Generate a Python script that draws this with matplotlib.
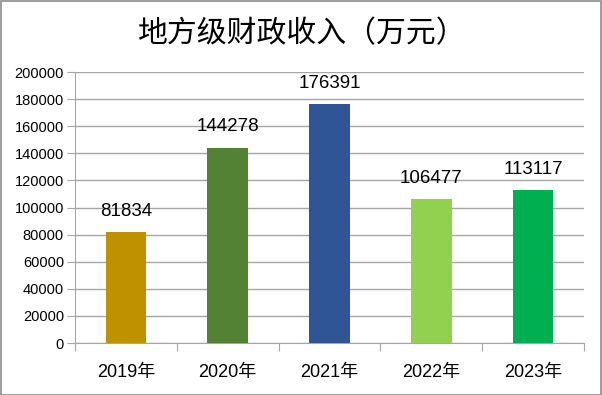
import numpy as np
import matplotlib
matplotlib.use('Agg')
import matplotlib.pyplot as plt
from matplotlib.patches import Rectangle

years = ['2019年', '2020年', '2021年', '2022年', '2023年']
revenue = [81834, 144278, 176391, 106477, 113117]
bar_colors = ['#BF9000', '#548235', '#2F5597', '#92D050', '#00B050']
yticks = np.arange(0, 200001, 20000)

plt.rcParams['font.family'] = ['Liberation Sans', 'Noto Sans CJK SC']

fig = plt.figure(figsize=(6.02, 3.95), dpi=100)
ax = fig.add_axes([0.1246, 0.1316, 0.8454, 0.6861])

x = np.arange(len(years))
ax.bar(x, revenue, width=0.4, color=bar_colors, zorder=3)
for xi, v in zip(x, revenue):
    ax.text(xi, v + 9000, str(v), ha='center', va='bottom', fontsize=13.5, color='black')

ax.set_xlim(-0.5, len(years) - 0.5)
ax.set_ylim(0, 200000)
ax.set_yticks(yticks)
ax.set_yticklabels([str(t) for t in yticks], fontsize=10.5)
ax.yaxis.grid(True, color='#A6A6A6', linewidth=1, zorder=0)

# category ticks between groups
ax.set_xticks(np.arange(-0.5, len(years), 1.0))
ax.set_xticklabels([])
ax.set_xticks(x, minor=True)
ax.set_xticklabels(years, minor=True, fontsize=13)
ax.tick_params(axis='x', which='major', length=6, color='#A6A6A6', direction='out')
ax.tick_params(axis='x', which='minor', length=0, pad=15)
ax.tick_params(axis='y', length=6, color='#A6A6A6', direction='out', pad=2)

for s in ['top', 'right']:
    ax.spines[s].set_visible(False)
ax.spines['left'].set_color('#A6A6A6')
ax.spines['bottom'].set_color('#A6A6A6')

fig.text(0.5, 0.915, '地方级财政收入（万元）', ha='center', va='center', fontsize=21.5,
         family=['Noto Sans CJK SC'])

fig.patches.append(Rectangle((0.001, 0.001), 0.997, 0.997, transform=fig.transFigure,
                             fill=False, edgecolor='#8C8C8C', linewidth=1.2))

fig.savefig('out.png', dpi=100)
